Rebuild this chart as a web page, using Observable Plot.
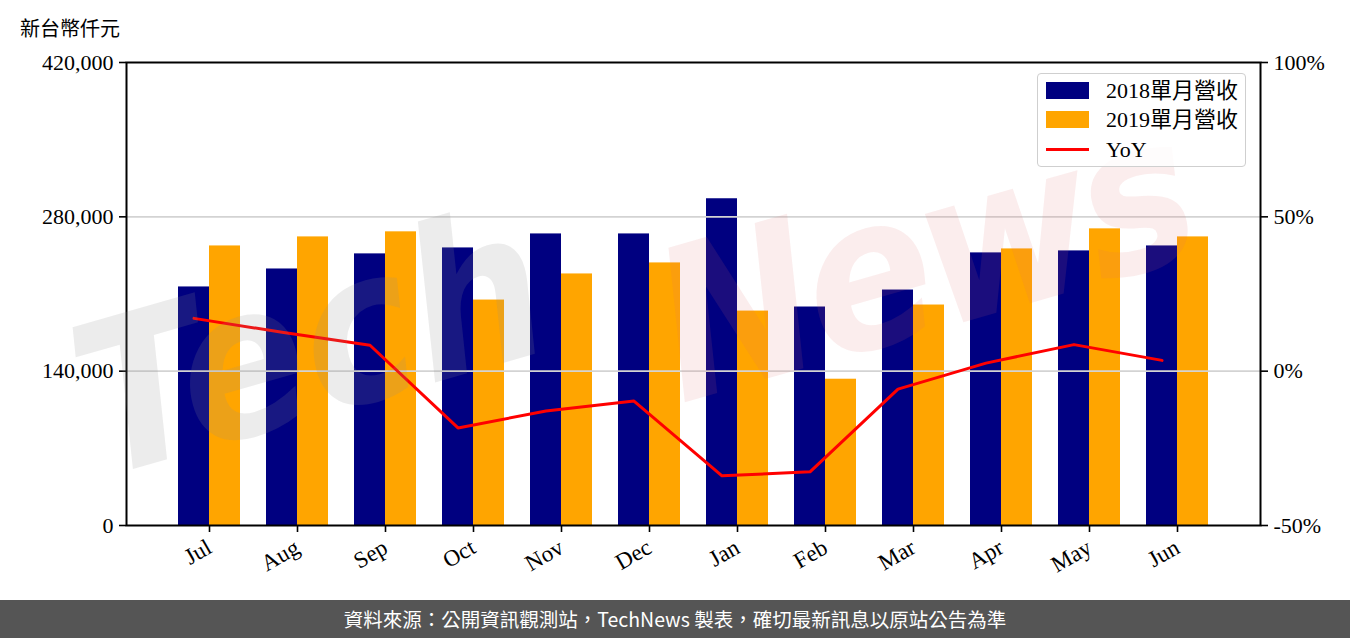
<!DOCTYPE html>
<html>
<head>
<meta charset="utf-8">
<script src="https://cdn.jsdelivr.net/npm/d3@7"></script>
<script src="https://cdn.jsdelivr.net/npm/@observablehq/plot@0.6"></script>
<style>
  html, body { margin: 0; padding: 0; background: #fff; }
  body { width: 1350px; height: 638px; position: relative; overflow: hidden; }
  #title { height: 40px; width: 1350px; position: relative;
           font-family: "Noto Sans CJK TC", "Noto Sans", sans-serif; font-size: 20px; color: #000; }
  #title span { position: absolute; left: 20px; top: 14px; line-height: 28px; }
  #chart { position: relative; width: 1350px; height: 560px; }
  #footer { position: absolute; left: 0; top: 600px; width: 1350px; height: 38px; background: #555555;
            color: #fff; font-family: "Noto Sans CJK TC", sans-serif; font-size: 19.5px;
            text-align: center; line-height: 38px; }
  #legend { position: absolute; left: 1037px; top: 73px; width: 207px; height: 92px;
            border: 1.5px solid #cfcfcf; border-radius: 4px; background: rgba(255,255,255,0.8);
            font-family: "Liberation Serif", "Noto Sans CJK TC", serif; font-size: 22px; color: #000; }
  .row { position: absolute; left: 0; height: 28px; width: 207px; }
  .sw { position: absolute; left: 8px; width: 43px; height: 17px; top: 5px; }
  .ln { position: absolute; left: 8px; width: 43px; height: 3px; top: 12px; background: red; }
  .lab { position: absolute; left: 68px; top: 0; line-height: 28px; white-space: nowrap; }
  .wm { position: absolute; font-family: "DejaVu Sans Condensed", "DejaVu Sans", sans-serif; font-weight: bold; font-style: italic;
        font-size: 210px; line-height: 1; white-space: nowrap; pointer-events: none;
        transform: rotate(-16deg); transform-origin: left bottom; }
</style>
</head>
<body>
<div id="title"><span>新台幣仟元</span></div>
<div id="chart"></div>
<div class="wm" style="left:110px; top:300px; color: rgba(140,140,140,0.17);">Tech</div>
<div class="wm" style="left:690px; top:225px; color: rgba(225,110,110,0.12); letter-spacing:-8px;">News</div>
<div id="legend">
  <div class="row" style="top:3px"><div class="sw" style="background:#000080"></div><div class="lab">2018單月營收</div></div>
  <div class="row" style="top:32px"><div class="sw" style="background:#FFA500"></div><div class="lab">2019單月營收</div></div>
  <div class="row" style="top:62px"><div class="ln"></div><div class="lab">YoY</div></div>
</div>
<div id="footer">資料來源：公開資訊觀測站，TechNews 製表，確切最新訊息以原站公告為準</div>
<script>
const months = ["Jul","Aug","Sep","Oct","Nov","Dec","Jan","Feb","Mar","Apr","May","Jun"];
const revenue2018 = [216400, 232700, 246400, 251800, 264500, 264500, 296400, 198200, 213600, 247300, 249100, 253600];
const revenue2019 = [253600, 261800, 266400, 204500, 228200, 238200, 194500, 132700, 200000, 250900, 269100, 261800];
const yoyPct = [17.1, 12.6, 8.4, -18.4, -12.9, -9.7, -33.9, -32.6, -5.8, 2.6, 8.6, 3.5];
const leftTicks = [0, 140000, 280000, 420000];
const rightTickLabels = ["-50%", "0%", "50%", "100%"];

const data = months.map((m, i) => ({month: m, r2018: revenue2018[i], r2019: revenue2019[i], yoy: yoyPct[i]}));
// right axis: -50% .. 100% mapped onto left domain 0 .. 420000
const pctToY = p => (p + 50) / 150 * 420000;

const chart = Plot.plot({
  width: 1350,
  height: 560,
  marginTop: 22,
  marginLeft: 126,
  marginRight: 90,
  marginBottom: 75,
  style: {fontFamily: "Liberation Serif, serif", fontSize: "22px", color: "#000", background: "transparent", overflow: "visible"},
  x: {domain: months, paddingInner: 0.295, paddingOuter: 0.59, label: null},
  y: {domain: [0, 420000], label: null},
  marks: [
    Plot.barY(data, {x: "month", y: "r2018", fill: "#000080", insetRight: 31}),
    Plot.barY(data, {x: "month", y: "r2019", fill: "#FFA500", insetLeft: 31}),
    Plot.gridY([140000, 280000], {stroke: "#d3d3d3", strokeOpacity: 1, strokeWidth: 1.6}),
    Plot.lineY(data, {x: "month", y: d => pctToY(d.yoy), stroke: "#FF0000", strokeWidth: 3, dx: -15.5}),
    Plot.axisY({ticks: leftTicks, tickFormat: d3.format(","), tickSize: 7, tickPadding: 6, strokeWidth: 1.6, label: null}),
    Plot.axisY({anchor: "right", ticks: leftTicks, tickFormat: v => rightTickLabels[leftTicks.indexOf(v)], tickSize: 7, tickPadding: 6, strokeWidth: 1.6, label: null}),
    Plot.axisX({tickRotate: -30, tickSize: 7, tickPadding: 13, fontSize: 23, strokeWidth: 1.6, label: null}),
    Plot.frame({stroke: "#000", strokeWidth: 2})
  ]
});
document.getElementById("chart").appendChild(chart);
</script>
</body>
</html>
